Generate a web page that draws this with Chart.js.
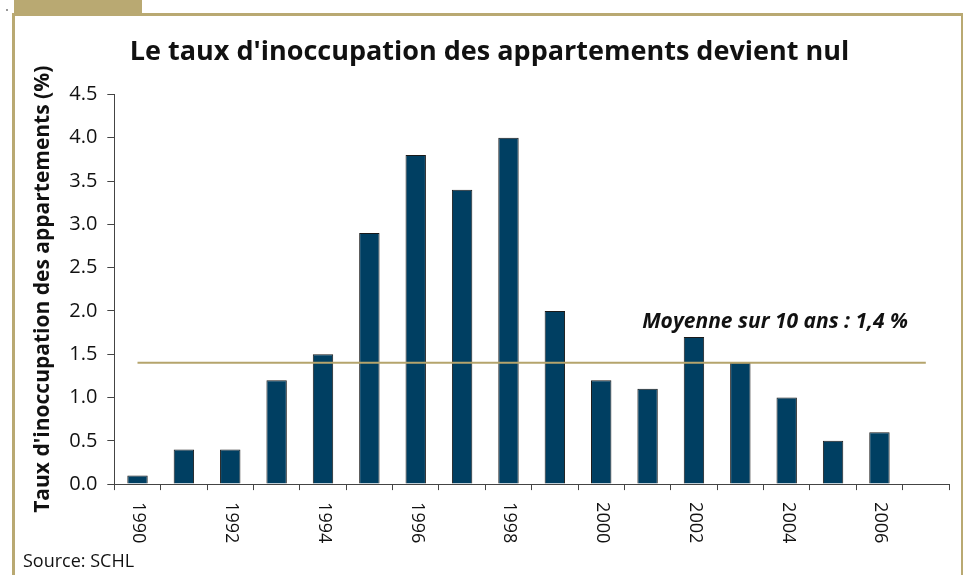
<!DOCTYPE html>
<html>
<head>
<meta charset="utf-8">
<script src="https://cdn.jsdelivr.net/npm/chart.js@4"></script>
<style>
  html, body { margin: 0; padding: 0; background: #fff; }
  body { width: 963px; height: 575px; position: relative; overflow: hidden; font-family: "Open Sans", sans-serif; }
  .tab { position: absolute; left: 14px; top: 0; width: 128px; height: 15px; background: #B9A972; }
  .frame { position: absolute; left: 12px; top: 13px; width: 946px; height: 580px; border: 3px solid #B9A972; border-bottom: none; }
  .dot { position: absolute; left: 6px; top: 9px; width: 2px; height: 2px; background: #999; }
  #wrap { position: absolute; left: 15px; top: 16px; width: 943px; height: 545px; }
  .source { position: absolute; left: 23px; top: 548px; font-size: 18px; color: #111; }
</style>
</head>
<body>
<div class="frame"></div>
<div class="tab"></div>
<div class="dot"></div>
<div id="wrap"><canvas id="chart"></canvas></div>
<div class="source">Source: SCHL</div>
<script>
const years = ['1990','1991','1992','1993','1994','1995','1996','1997','1998','1999','2000','2001','2002','2003','2004','2005','2006','2007'];
const vacancyRates = [0.1, 0.4, 0.4, 1.2, 1.5, 2.9, 3.8, 3.4, 4.0, 2.0, 1.2, 1.1, 1.7, 1.4, 1.0, 0.5, 0.6, null];
const tenYearAverage = [1.4, 1.4, 1.4, 1.4, 1.4, 1.4, 1.4, 1.4, 1.4, 1.4, 1.4, 1.4, 1.4, 1.4, 1.4, 1.4, 1.4, 1.4];
const shownYears = ['1990','1992','1994','1996','1998','2000','2002','2004','2006'];

const FONT = '"Open Sans", sans-serif';

// x labels read top-to-bottom, so draw them ourselves
const clockwiseLabels = {
    id: 'clockwiseLabels',
    afterDraw(chart) {
        const x = chart.scales.x;
        const ctx = chart.ctx;
        ctx.save();
        ctx.font = '18px ' + FONT;
        ctx.fillStyle = '#111';
        ctx.textAlign = 'left';
        ctx.textBaseline = 'middle';
        years.forEach((y, i) => {
            if (!shownYears.includes(y)) return;
            ctx.save();
            ctx.translate(x.getPixelForTick(i) + 1, x.top + 18);
            ctx.rotate(Math.PI / 2);
            ctx.fillText(y, 0, 0);
            ctx.restore();
        });
        ctx.restore();
    }
};

const averageNote = {
    id: 'averageNote',
    afterDatasetsDraw(chart) {
        const { x, y } = chart.scales;
        const ctx = chart.ctx;
        ctx.save();
        ctx.font = 'italic bold 21px ' + FONT;
        ctx.fillStyle = '#111';
        ctx.textAlign = 'center';
        ctx.textBaseline = 'middle';
        ctx.fillText('Moyenne sur 10 ans : 1,4 %', x.getPixelForValue(13.75), y.getPixelForValue(1.87));
        ctx.restore();
    }
};

new Chart(document.getElementById('chart'), {
    type: 'bar',
    data: {
        labels: years,
        datasets: [
            {
                type: 'line',
                data: tenYearAverage,
                borderColor: '#B5A46C',
                borderWidth: 2,
                pointRadius: 0,
                order: 0
            },
            {
                data: vacancyRates,
                backgroundColor: '#003F62',
                borderColor: '#1a1a1a',
                borderWidth: 1,
                barPercentage: 0.88,
                categoryPercentage: 0.5,
                order: 1
            }
        ]
    },
    options: {
        responsive: true,
        maintainAspectRatio: false,
        animation: false,
        layout: { padding: { left: 15, right: 9, bottom: 26 } },
        plugins: {
            legend: { display: false },
            tooltip: { enabled: false },
            title: {
                display: true,
                text: "Le taux d'inoccupation des appartements devient nul",
                color: '#111',
                font: { family: FONT, size: 27, weight: 'bold' },
                padding: { top: 20, bottom: 26 }
            }
        },
        scales: {
            x: {
                offset: true,
                grid: { display: true, offset: true, drawOnChartArea: false, tickLength: 6, color: '#444' },
                border: { color: '#444', width: 1 },
                ticks: {
                    autoSkip: false,
                    minRotation: 90,
                    maxRotation: 90,
                    color: 'transparent',
                    font: { family: FONT, size: 17 },
                    callback: (v, i) => shownYears.includes(years[i]) ? years[i] : ''
                }
            },
            y: {
                min: 0,
                max: 4.5,
                ticks: {
                    stepSize: 0.5,
                    color: '#111',
                    font: { family: FONT, size: 20 },
                    padding: 10,
                    callback: v => v.toFixed(1)
                },
                grid: { display: true, drawOnChartArea: false, tickLength: 7, color: '#444' },
                border: { color: '#444', width: 1 },
                title: {
                    display: true,
                    text: "Taux d'inoccupation des appartements (%)",
                    color: '#111',
                    font: { family: FONT, size: 21, weight: 'bold' },
                    padding: { top: 0, bottom: 4 }
                }
            }
        }
    },
    plugins: [clockwiseLabels, averageNote]
});
</script>
</body>
</html>
